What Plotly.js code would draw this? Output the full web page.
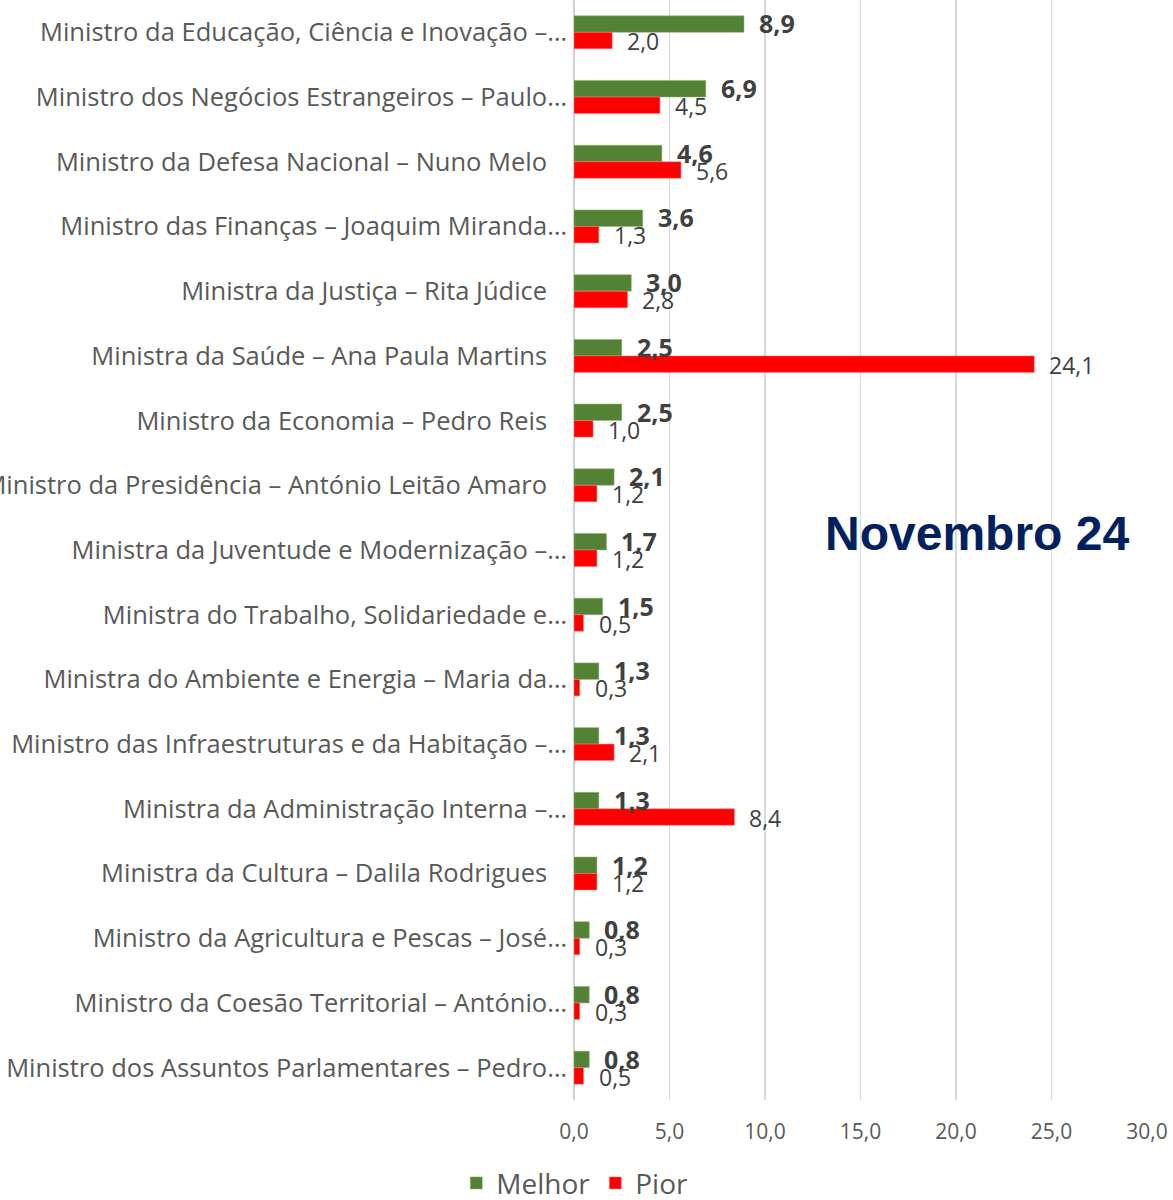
<!DOCTYPE html>
<html>
<head>
<meta charset="utf-8">
<script src="https://cdn.plot.ly/plotly-3.0.1.min.js"></script>
<style>html,body{margin:0;padding:0;background:#fff;}</style>
</head>
<body>
<div id="chart" style="width:1173px;height:1200px;"></div>
<script>
const categories = [
  "Ministro da Educação, Ciência e Inovação –…",
  "Ministro dos Negócios Estrangeiros – Paulo…",
  "Ministro da Defesa Nacional – Nuno Melo",
  "Ministro das Finanças – Joaquim Miranda…",
  "Ministra da Justiça – Rita Júdice",
  "Ministra da Saúde – Ana Paula Martins",
  "Ministro da Economia – Pedro Reis",
  "Ministro da Presidência – António Leitão Amaro",
  "Ministra da Juventude e Modernização –…",
  "Ministra do Trabalho, Solidariedade e…",
  "Ministra do Ambiente e Energia – Maria da…",
  "Ministro das Infraestruturas e da Habitação –…",
  "Ministra da Administração Interna –…",
  "Ministra da Cultura – Dalila Rodrigues",
  "Ministro da Agricultura e Pescas – José…",
  "Ministro da Coesão Territorial – António…",
  "Ministro dos Assuntos Parlamentares – Pedro…"
];
const melhor = [8.9, 6.9, 4.6, 3.6, 3.0, 2.5, 2.5, 2.1, 1.7, 1.5, 1.3, 1.3, 1.3, 1.2, 0.8, 0.8, 0.8];
const pior   = [2.0, 4.5, 5.6, 1.3, 2.8, 24.1, 1.0, 1.2, 1.2, 0.5, 0.3, 2.1, 8.4, 1.2, 0.3, 0.3, 0.5];
const seriesNames = ["Melhor", "Pior"];
const xTicks = [0, 5, 10, 15, 20, 25, 30];
const periodLabel = "Novembro 24";

const fmt = v => v.toFixed(1).replace('.', ',');
const labelFont = "Open Sans, DejaVu Sans, sans-serif";
// untruncated labels sit a little further from the axis in the original
const tickText = categories.map(c => c.endsWith('…') ? c : c + '\u00a0\u00a0\u00a0');

const traces = [
  {type:'bar', orientation:'h', name:seriesNames[0], y:categories, x:melhor,
   marker:{color:'#548235', line:{color:'#8fb070', width:0.5}}, hoverinfo:'x+y'},
  {type:'bar', orientation:'h', name:seriesNames[1], y:categories, x:pior,
   marker:{color:'#FF0000', line:{color:'#ff8080', width:0.5}}, hoverinfo:'x+y'}
];

const annotations = [];
categories.forEach((c, i) => {
  annotations.push({x:melhor[i], y:c, xref:'x', yref:'y', text:'<b>'+fmt(melhor[i])+'</b>',
    showarrow:false, xanchor:'left', yanchor:'middle', xshift:13, yshift:9,
    font:{family:labelFont, size:25, color:'#404040'}});
  annotations.push({x:pior[i], y:c, xref:'x', yref:'y', text:fmt(pior[i]),
    showarrow:false, xanchor:'left', yanchor:'middle', xshift:13, yshift:-9,
    font:{family:labelFont, size:23, color:'#404040'}});
});
annotations.push({x:0.704, y:0.515, xref:'paper', yref:'paper', text:'<b>'+periodLabel+'</b>',
  showarrow:false, xanchor:'center', yanchor:'middle',
  font:{family:'Liberation Sans, Arial, sans-serif', size:48, color:'#002060'}});

const layout = {
  width:1173, height:1200,
  margin:{l:574, r:26, t:0, b:100, pad:0},
  paper_bgcolor:'#ffffff', plot_bgcolor:'#ffffff',
  separators:',.',
  barmode:'group', bargap:0.49, bargroupgap:0,
  showlegend:true,
  legend:{orientation:'h', x:0.49, xref:'container', xanchor:'center', y:0.014, yref:'container', yanchor:'middle',
    font:{family:labelFont, size:28, color:'#595959'}, traceorder:'normal'},
  xaxis:{range:[0,30], tickvals:xTicks, tickformat:'.1f', showgrid:true, gridcolor:'#d9d9d9', gridwidth:1.5,
    zeroline:true, zerolinecolor:'#d0d0d0', zerolinewidth:1.5, showline:false, ticks:'',
    ticklabelstandoff:17, tickfont:{family:labelFont, size:21, color:'#595959'}, fixedrange:true},
  yaxis:{type:'category', autorange:'reversed', showgrid:false, zeroline:false, showline:false, ticks:'',
    tickmode:'array', tickvals:categories, ticktext:tickText,
    ticklabelstandoff:6, tickfont:{family:labelFont, size:25.5, color:'#595959'}},
  annotations:annotations,
  font:{family:labelFont}
};

Plotly.newPlot('chart', traces, layout, {displayModeBar:false, staticPlot:true});
</script>
</body>
</html>
